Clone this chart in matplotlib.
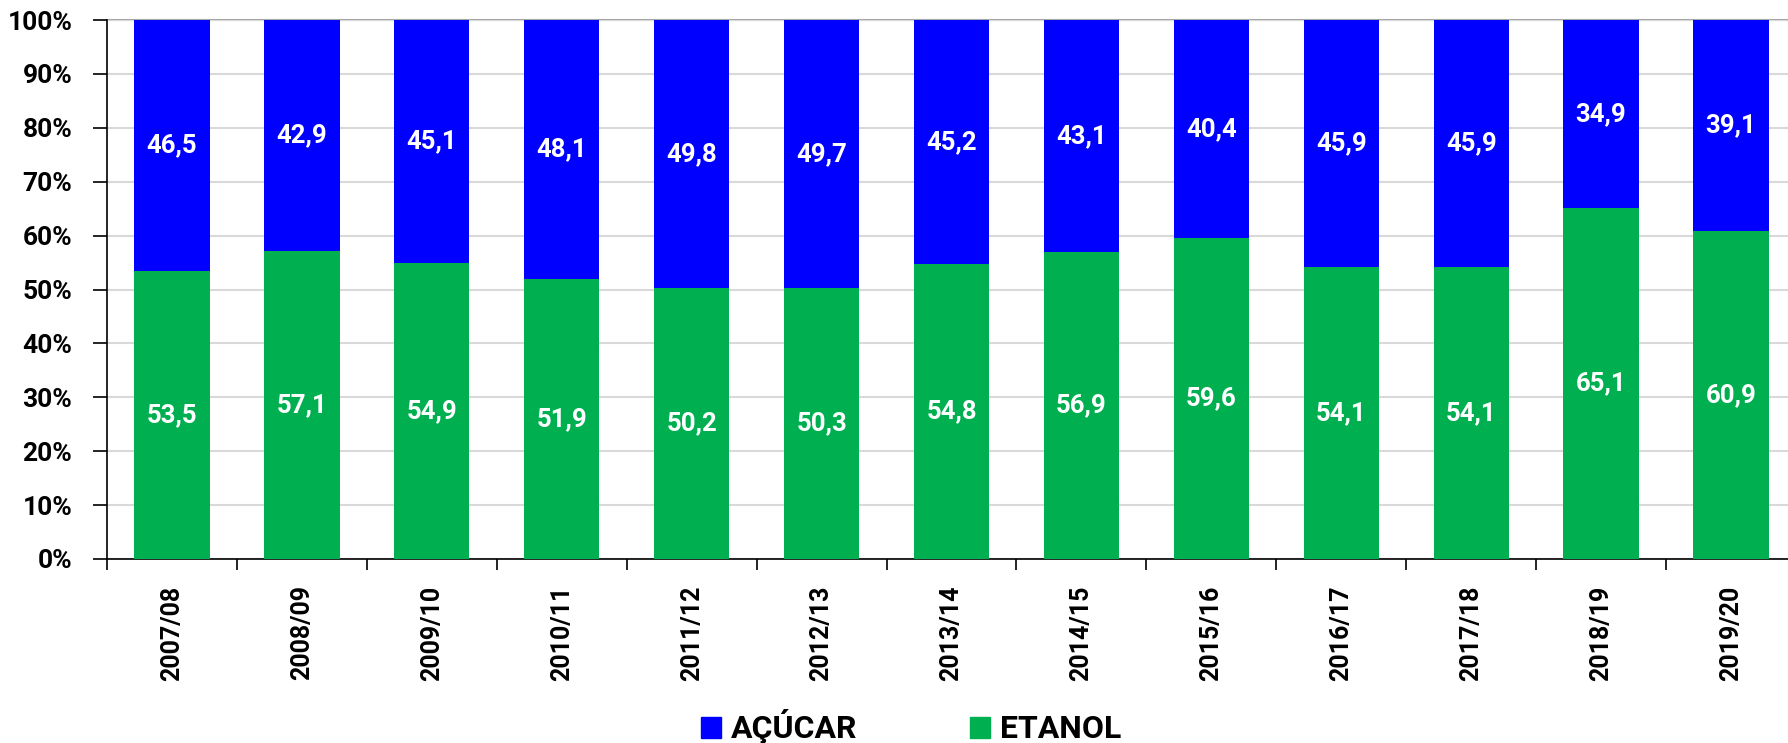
import numpy as np
import matplotlib.pyplot as plt
from matplotlib.patches import Patch
from matplotlib.ticker import FixedLocator, PercentFormatter

plt.rcParams['font.family'] = ['Roboto', 'DejaVu Sans']
plt.rcParams['font.weight'] = 'bold'

safras = ['2007/08', '2008/09', '2009/10', '2010/11', '2011/12', '2012/13', '2013/14',
          '2014/15', '2015/16', '2016/17', '2017/18', '2018/19', '2019/20']
etanol = [53.5, 57.1, 54.9, 51.9, 50.2, 50.3, 54.8, 56.9, 59.6, 54.1, 54.1, 65.1, 60.9]
acucar = [46.5, 42.9, 45.1, 48.1, 49.8, 49.7, 45.2, 43.1, 40.4, 45.9, 45.9, 34.9, 39.1]

cor_acucar = '#0000FF'
cor_etanol = '#00B050'

fig = plt.figure(figsize=(17.88, 7.43), dpi=100)
W, H = 1788, 743
# the plot area runs a little past the right edge of the picture
ax = fig.add_axes([107 / W, 1 - 559 / H, (1796 - 107) / W, (559 - 20) / H])

x = np.arange(len(safras))
b1 = ax.bar(x, etanol, width=0.58, color=cor_etanol, zorder=3)
b2 = ax.bar(x, acucar, width=0.58, bottom=etanol, color=cor_acucar, zorder=3)

fmt = lambda v: f'{v:.1f}'.replace('.', ',')
ax.bar_label(b1, labels=[fmt(v) for v in etanol], label_type='center',
             color='white', fontsize=18.5, fontweight='bold', zorder=4)
ax.bar_label(b2, labels=[fmt(v) for v in acucar], label_type='center',
             color='white', fontsize=18.5, fontweight='bold', zorder=4)

ax.set_xlim(-0.5, len(safras) - 0.5)
ax.set_ylim(0, 100)
ax.set_yticks(np.arange(0, 101, 10))
ax.yaxis.set_major_formatter(PercentFormatter(decimals=0))
ax.tick_params(axis='y', length=10, width=1.2, pad=15, labelsize=19)
for t in ax.get_yticklabels():
    t.set_fontweight('bold')

# category labels at the centers, tick marks between categories
ax.xaxis.set_major_locator(FixedLocator(np.arange(-0.5, len(safras), 1)))
ax.xaxis.set_minor_locator(FixedLocator(x))
ax.set_xticklabels([])
ax.set_xticklabels(safras, minor=True, rotation=90, fontsize=18, fontweight='bold')
ax.tick_params(axis='x', which='major', length=8, width=1.2)
ax.tick_params(axis='x', which='minor', length=0, pad=19)

ax.grid(axis='y', color='#D9D9D9', linewidth=1.5, zorder=0)
ax.spines['right'].set_visible(False)
ax.spines['top'].set_visible(False)
ax.spines['left'].set_linewidth(1.2)
ax.spines['bottom'].set_linewidth(1.2)
ax.axhline(100, color='#A6A6A6', linewidth=1.5, zorder=1, clip_on=False)

handles = [Patch(color=cor_acucar, label='AÇÚCAR'), Patch(color=cor_etanol, label='ETANOL')]
fig.legend(handles=handles, loc='center', bbox_to_anchor=(911 / W, 1 - 727 / H), ncol=2,
           frameon=False, prop={'size': 23, 'weight': 'bold'}, handlelength=0.63,
           handleheight=0.63, handletextpad=0.3, columnspacing=3.55, borderpad=0)

fig.savefig('out.png', dpi=100)
